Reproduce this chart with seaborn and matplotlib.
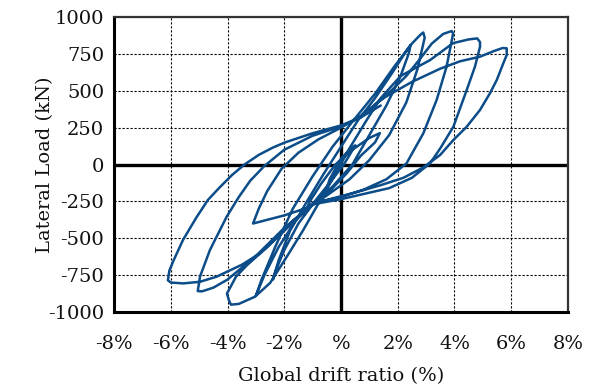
import matplotlib
matplotlib.use("Agg")
import matplotlib.pyplot as plt
import numpy as np
import pandas as pd
import seaborn as sns

# Load-drift history of the wall, one list pair per loading stage (drift in %, load in kN)
stage_05_drift = [0.0, -0.2, -0.4, -0.5, -0.4, -0.2, 0.0, 0.3, 0.5]
stage_05_load = [0, -60, -120, -160, -100, -30, 40, 100, 130]

stage_13_drift = [0.35, 0.1, -0.3, -0.8, -1.3, -1.1, -0.7, -0.2, 0.4, 1.0, 1.37]
stage_13_load = [80, 0, -100, -220, -340, -250, -130, 0, 100, 180, 213]

stage_24_drift = [1.2, 0.7, 0.2, -0.5, -1.0, -1.5, -2.0, -2.3, -2.4,
                  -2.2, -1.8, -1.2, -0.6, 0.0, 0.6, 1.2, 1.8, 2.2, 2.45]
stage_24_load = [150, 60, -60, -200, -270, -400, -580, -720, -780,
                 -650, -450, -250, -60, 120, 300, 450, 620, 740, 810]

stage_30_drift = [2.4, 2.1, 1.6, 1.0, 0.4, -0.3, -1.0, -1.6, -2.2, -2.7, -3.0,
                  -2.8, -2.3, -1.7, -1.0, -0.3, 0.4, 1.2, 1.9, 2.5, 2.8, 2.9,
                  2.95, 2.7, 2.3, 1.7, 1.0, 0.3, -0.5, -1.1, -2.0, -3.1]
stage_30_load = [760, 600, 400, 200, 0, -150, -265, -380, -560, -750, -890,
                 -780, -550, -300, -80, 120, 290, 480, 670, 820, 880, 895,
                 860, 650, 420, 200, 30, -100, -210, -288, -345, -400]

stage_39_drift = [-2.9, -2.6, -2.1, -1.5, -0.8, 0.0, 0.7, 1.5, 2.3, 2.8, 3.2, 3.6, 3.9,
                  3.95, 3.93, 3.72, 3.37, 2.9, 2.31, 1.6, 0.8, 0.0, -1.0, -1.8, -2.6,
                  -3.3, -3.7, -3.95, -4.02, -3.95, -3.88]
stage_39_load = [-300, -180, -30, 80, 170, 250, 330, 450, 600, 720, 820, 885, 905,
                 890, 866, 663, 437, 211, 8, -100, -170, -220, -265, -400, -560,
                 -680, -760, -850, -875, -920, -950]

stage_49_drift = [-3.6, -3.03, -2.5, -1.91, -1.33, -0.86, -0.3, 0.3, 0.9, 1.4, 2.1, 3.14,
                  3.95, 4.5, 4.8, 4.9, 4.9, 4.72, 4.43, 3.96, 3.5, 3.14, 2.5, 1.7, 0.8,
                  0.0, -1.0, -2.0, -3.0, -4.0, -4.5, -4.9, -5.05]
stage_49_load = [-945, -896, -803, -625, -444, -286, -100, 110, 300, 450, 600, 708,
                 823, 848, 855, 830, 799, 663, 505, 256, 110, 8, -90, -160, -200,
                 -235, -270, -430, -620, -780, -835, -860, -858]

stage_58_drift = [-5.0, -4.97, -4.62, -4.03, -3.6, -3.2, -2.7, -2.0, -1.0, 0.0, 0.7, 1.37, 2.5,
                  3.5, 4.2, 4.9, 5.4, 5.7, 5.84, 5.84, 5.72, 5.49, 5.25, 4.9, 4.43,
                  3.96, 3.49, 2.9, 2.2, 1.4, 0.5, -0.3, -1.0, -2.0, -2.85, -3.5,
                  -4.38, -4.97, -5.56, -6.0, -6.1,
                  -6.05, -5.9, -5.57, -5.1, -4.69, -4.3, -3.84, -3.4, -2.9, -2.4, -1.97,
                  -1.0, 0.0, 0.7, 1.4]
stage_58_load = [-800, -760, -580, -354, -220, -110, -10, 100, 195, 258, 320, 437, 560,
                 650, 700, 731, 770, 790, 788, 742, 686, 573, 483, 370, 256,
                 166, 64, -20, -90, -140, -190, -230, -265, -450, -602, -680,
                 -760, -795, -806, -800, -785,
                 -720, -650, -512, -360, -240, -160, -71, 0, 65, 115, 150,
                 212, 265, 320, 400]

x_ticks = [-8, -6, -4, -2, 0, 2, 4, 6, 8]
x_tick_labels = ["-8%", "-6%", "-4%", "-2%", "%", "2%", "4%", "6%", "8%"]
y_ticks = [-1000, -750, -500, -250, 0, 250, 500, 750, 1000]
y_tick_labels = ["-1000", "-750", "-500", "-250", "0", "250", "500", "750", "1000"]

drift = ([0.0] + stage_05_drift + stage_13_drift + stage_24_drift + stage_30_drift
         + stage_39_drift + stage_49_drift + stage_58_drift)
load = ([0] + stage_05_load + stage_13_load + stage_24_load + stage_30_load
        + stage_39_load + stage_49_load + stage_58_load)
history = pd.DataFrame({"drift": drift, "load": load, "step": np.arange(len(drift))})

sns.set_theme(style="white")
plt.rcParams["font.family"] = ["DejaVu Serif"]
plt.rcParams["font.size"] = 14

fig = plt.figure(figsize=(5.96, 3.91), dpi=100)
ax = fig.add_axes([0.1913, 0.202, 0.7617, 0.7545])

ax.grid(True, color="black", linestyle=(0, (2, 1.6)), linewidth=0.8)
ax.set_axisbelow(True)
ax.axhline(0, color="black", linewidth=2.4, zorder=2)
ax.axvline(0, color="black", linewidth=2.4, zorder=2)

sns.lineplot(data=history, x="drift", y="load", sort=False, estimator=None,
             color="#0c4d89", linewidth=1.8, ax=ax, zorder=3)

ax.set_xlim(-8, 8)
ax.set_ylim(-1000, 1000)
ax.set_xticks(x_ticks)
ax.set_xticklabels(x_tick_labels)
ax.set_yticks(y_ticks)
ax.set_yticklabels(y_tick_labels)
ax.tick_params(axis="both", direction="in", length=8, width=2.2, color="black",
               labelsize=14, labelcolor="#111111")
ax.tick_params(axis="x", pad=16.5)
ax.tick_params(axis="y", pad=7)

for side in ("left", "bottom"):
    ax.spines[side].set_linewidth(2.2)
    ax.spines[side].set_color("black")
for side in ("top", "right"):
    ax.spines[side].set_linewidth(1.6)
    ax.spines[side].set_color("#333333")

ax.set_xlabel("Global drift ratio (%)", fontsize=14, color="#111111", labelpad=10)
ax.set_ylabel("Lateral Load (kN)", fontsize=14, color="#111111", labelpad=-4)

fig.savefig("out.png", dpi=100)
